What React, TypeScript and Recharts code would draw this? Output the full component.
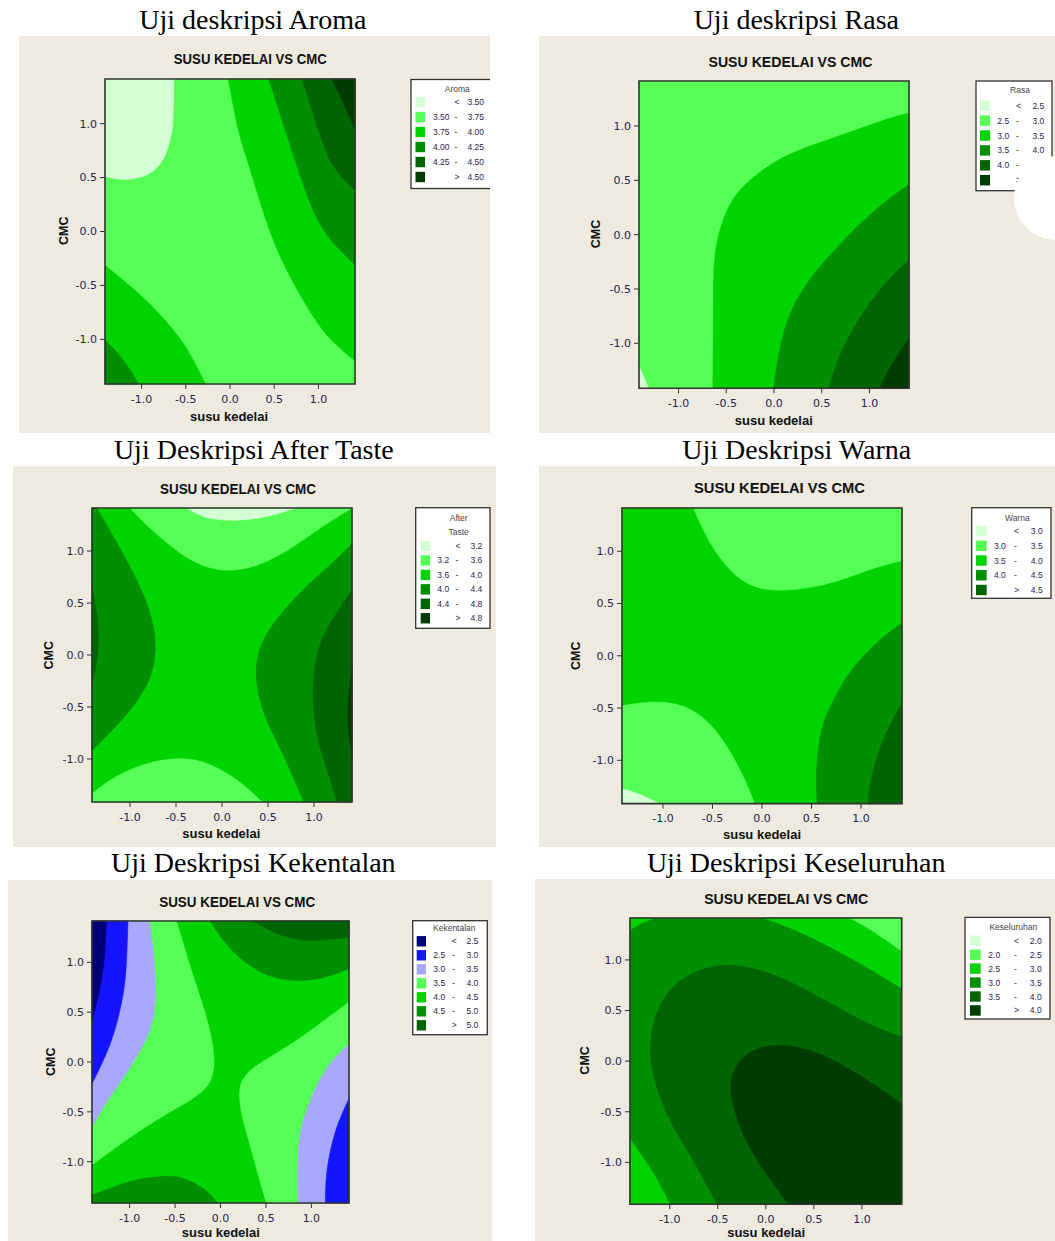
import React from 'react';
import { ScatterChart, Scatter, XAxis, YAxis } from 'recharts';

type P = { x: number; y: number };

const E = 1.414;
const pts = (a: number[][]): P[] => a.map(([x, y]) => ({ x, y }));

const BEIGE = '#eeeae0';
const LIGHT = '#d4ffd4';
const BRIGHT = '#55ff55';
const GREEN = '#00d400';
const MID = '#008f00';
const DARK = '#006400';
const DEEP = '#003c00';
const NAVY = '#000078';
const BLUE = '#1414ff';
const LAV = '#a8a8ff';

const ticks = [-1, -0.5, 0, 0.5, 1];
const full = pts([[-E, -E], [E, -E], [E, E], [-E, E]]);

// Aroma
const aromaLevels = ['3.50', '3.75', '4.00', '4.25', '4.50'];
const aromaLow = pts([[-0.636, E], [-0.64, 1.1], [-0.655, 0.9], [-0.749, 0.655], [-0.9, 0.53], [-1.107, 0.48], [-1.313, 0.486], [-E, 0.51], [-E, E]]);
const aromaGreenBL = pts([[-E, -0.314], [-1.163, -0.483], [-0.904, -0.668], [-0.636, -0.914], [-0.447, -1.131], [-0.278, -E], [-E, -E]]);
const aromaMidBL = pts([[-E, -1.006], [-1.22, -1.145], [-1.031, -E], [-E, -E]]);
const aromaGreenR = pts([[-0.02, E], [0.05, 1.1], [0.12, 0.85], [0.22, 0.6], [0.33, 0.3], [0.45, 0.0], [0.6, -0.3], [0.8, -0.6], [1.0, -0.87], [1.2, -1.06], [E, -1.2], [E, E]]);
const aromaMidR = pts([[0.437, E], [0.55, 1.13], [0.66, 0.85], [0.78, 0.55], [0.93, 0.2], [1.1, -0.05], [1.28, -0.2], [E, -0.314], [E, E]]);
const aromaDarkR = pts([[0.815, E], [0.928, 1.133], [1.041, 0.825], [1.2, 0.54], [E, 0.38], [E, E]]);
const aromaDeepR = pts([[1.154, E], [1.285, 1.194], [E, 0.948], [E, E]]);

// Rasa
const rasaLevels = ['2.5', '3.0', '3.5', '4.0', '4.5'];
const rasaLow = pts([[-E, -1.205], [-1.314, -E], [-E, -E]]);
const rasaGreen = pts([[-0.64, -E], [-0.633, -0.6], [-0.633, -0.3], [-0.598, -0.055], [-0.528, 0.16], [-0.424, 0.344], [-0.284, 0.48], [-0.04, 0.65], [0.239, 0.773], [0.588, 0.88], [0.937, 0.988], [1.286, 1.095], [E, 1.117], [E, -E]]);
const rasaMid = pts([[-0.005, -E], [0.047, -1.067], [0.169, -0.7], [0.379, -0.393], [0.658, -0.117], [0.972, 0.16], [1.217, 0.344], [E, 0.46], [E, -E]]);
const rasaDark = pts([[0.571, -E], [0.658, -1.16], [0.832, -0.853], [1.042, -0.577], [1.251, -0.362], [E, -0.233], [E, -E]]);
const rasaDeep = pts([[1.105, -E], [1.217, -1.19], [E, -0.96], [E, -E]]);

// After Taste
const tasteLevels = ['3.2', '3.6', '4.0', '4.4', '4.8'];
const tasteTop = pts([[-1.0, E], [-0.855, 1.277], [-0.673, 1.134], [-0.455, 0.975], [-0.236, 0.863], [0, 0.809], [0.236, 0.822], [0.491, 0.895], [0.745, 1.022], [1.0, 1.18], [1.218, 1.309], [E, E]]);
const tasteTopLight = pts([[-0.382, E], [-0.236, 1.331], [0, 1.293], [0.273, 1.299], [0.564, 1.341], [0.8, E]]);
const tasteBottom = pts([[-E, -1.334], [-1.255, -1.223], [-1.036, -1.111], [-0.782, -1.032], [-0.527, -0.994], [-0.309, -1.0], [-0.091, -1.064], [0.127, -1.175], [0.309, -1.303], [0.436, -E], [-E, -E]]);
const tasteLeft = pts([[-1.364, E], [-1.218, 1.197], [-1.036, 0.911], [-0.855, 0.592], [-0.745, 0.306], [-0.716, 0.051], [-0.764, -0.204], [-0.927, -0.459], [-1.145, -0.682], [-E, -0.92], [-E, E]]);
const tasteLeftDark = pts([[-E, 0.656], [-1.364, 0.433], [-1.342, 0.21], [-1.353, -0.013], [-1.389, -0.204], [-E, -0.27]]);
const tasteRight = pts([[E, 1.07], [1.218, 0.895], [0.927, 0.672], [0.673, 0.433], [0.455, 0.178], [0.364, -0.076], [0.382, -0.363], [0.491, -0.65], [0.655, -0.936], [0.782, -1.191], [0.891, -E], [E, -E]]);
const tasteRightDark = pts([[E, 0.624], [1.218, 0.369], [1.073, 0.146], [1.0, -0.14], [0.982, -0.49], [1.055, -0.873], [1.164, -1.159], [1.255, -E], [E, -E]]);
const tasteRightDeep = pts([[E, -0.14], [1.385, -0.331], [1.364, -0.554], [1.382, -0.777], [E, -0.968]]);

// Warna
const warnaLevels = ['3.0', '3.5', '4.0', '4.5'];
const warnaTop = pts([[-0.693, E], [-0.593, 1.197], [-0.459, 0.975], [-0.291, 0.784], [-0.124, 0.673], [0.077, 0.625], [0.345, 0.632], [0.613, 0.673], [0.881, 0.752], [1.149, 0.848], [E, 0.911], [E, E]]);
const warnaBottom = pts([[-E, -0.479], [-1.229, -0.448], [-0.995, -0.438], [-0.76, -0.486], [-0.559, -0.613], [-0.392, -0.803], [-0.258, -1.025], [-0.157, -1.216], [-0.074, -E], [-E, -E]]);
const warnaLow = pts([[-E, -1.273], [-1.229, -1.311], [-1.045, -E], [-E, -E]]);
const warnaMid = pts([[E, 0.314], [1.216, 0.181], [1.015, -0.01], [0.848, -0.2], [0.714, -0.438], [0.613, -0.644], [0.563, -0.898], [0.546, -1.184], [0.556, -E], [E, -E]]);
const warnaDark = pts([[E, -0.448], [1.283, -0.676], [1.183, -0.898], [1.116, -1.121], [1.082, -1.279], [1.072, -E], [E, -E]]);

// Kekentalan
const kentalLevels = ['2.5', '3.0', '3.5', '4.0', '4.5', '5.0'];
const kentalLeftBright = pts([[-0.486, E], [-0.413, 1.2], [-0.339, 0.967], [-0.229, 0.667], [-0.138, 0.4], [-0.083, 0.167], [-0.064, -0.033], [-0.112, -0.217], [-0.266, -0.35], [-0.56, -0.5], [-0.853, -0.667], [-1.147, -0.85], [-E, -1.033], [-E, E]]);
const kentalLeftLav = pts([[-0.78, E], [-0.743, 1.167], [-0.714, 0.833], [-0.714, 0.567], [-0.761, 0.333], [-0.89, 0.1], [-1.073, -0.167], [-1.257, -0.4], [-E, -0.65], [-E, E]]);
const kentalLeftBlue = pts([[-1.018, E], [-1.026, 1.167], [-1.044, 0.833], [-1.092, 0.567], [-1.165, 0.3], [-1.275, 0.033], [-E, -0.217], [-E, E]]);
const kentalLeftNavy = pts([[-1.257, E], [-1.264, 1.167], [-1.294, 0.9], [-1.349, 0.633], [-E, 0.417], [-E, E]]);
const kentalRightBright = pts([[E, 0.6], [1.165, 0.433], [0.872, 0.233], [0.578, 0.067], [0.339, -0.067], [0.218, -0.2], [0.204, -0.367], [0.248, -0.6], [0.339, -0.867], [0.413, -1.133], [0.505, -E], [E, -E]]);
const kentalRightLav = pts([[E, 0.183], [1.239, 0.033], [1.092, -0.167], [0.963, -0.433], [0.872, -0.7], [0.846, -1.0], [0.853, -E], [E, -E]]);
const kentalRightBlue = pts([[E, -0.367], [1.312, -0.567], [1.239, -0.767], [1.183, -1.0], [1.154, -1.233], [1.154, -E], [E, -E]]);
const kentalTopMid = pts([[-0.119, E], [-0.009, 1.267], [0.138, 1.1], [0.321, 0.967], [0.505, 0.867], [0.725, 0.817], [0.982, 0.817], [1.202, 0.86], [E, 0.933], [E, E]]);
const kentalTopDark = pts([[0.358, E], [0.505, 1.333], [0.725, 1.25], [0.945, 1.217], [1.165, 1.223], [E, 1.25], [E, E]]);
const kentalBottomMid = pts([[-E, -1.333], [-1.22, -1.267], [-0.963, -1.183], [-0.67, -1.143], [-0.45, -1.15], [-0.266, -1.217], [-0.119, -1.317], [-0.028, -E], [-E, -E]]);

// Keseluruhan
const allLevels = ['2.0', '2.5', '3.0', '3.5', '4.0'];
const allTopLeft = pts([[-E, 1.298], [-1.304, 1.364], [-1.166, E], [-E, E]]);
const allTopRight = pts([[-0.026, E], [0.181, 1.347], [0.458, 1.231], [0.734, 1.099], [1.01, 0.95], [1.218, 0.835], [E, 0.719], [E, E]]);
const allTopRightBright = pts([[0.872, E], [1.045, 1.33], [1.218, 1.215], [E, 1.089], [E, E]]);
const allBottomLeft = pts([[-E, -0.769], [-1.269, -0.967], [-1.131, -1.165], [-1.0, -E], [-E, -E]]);
const allDark = pts([[-0.509, -E], [-0.717, -1.033], [-0.959, -0.669], [-1.131, -0.306], [-1.207, 0.025], [-1.193, 0.289], [-1.124, 0.521], [-0.993, 0.719], [-0.786, 0.868], [-0.579, 0.934], [-0.371, 0.957], [-0.095, 0.911], [0.181, 0.818], [0.458, 0.686], [0.734, 0.537], [1.01, 0.395], [1.218, 0.306], [E, 0.24], [E, -E]]);
const allDeep = pts([[0.233, -E], [0.043, -1.165], [-0.147, -0.901], [-0.295, -0.603], [-0.371, -0.306], [-0.354, -0.124], [-0.233, 0.058], [-0.026, 0.147], [0.181, 0.164], [0.458, 0.114], [0.734, -0.002], [1.01, -0.157], [1.218, -0.289], [E, -0.421], [E, -E]]);

type Region = { color: string; data: P[] };
type Legend = {
  box: number[];
  title: string[];
  titleX: number;
  titleY: number;
  r0: number;
  step: number;
  sx: number;
  sw: number;
  loX: number;
  dashX: number;
  hiX: number;
  levels: string[];
  colors: string[];
};
type PanelCfg = {
  box: number[];
  plot: number[];
  title: string;
  titlePos: number[];
  sub: number[];
  xlab: number[];
  ylab: number[];
  legend: Legend;
  regions: Region[];
  circle?: number[];
};

const panels: PanelCfg[] = [
  {
    box: [19, 36, 471, 397],
    plot: [105, 79, 250, 305],
    title: 'Uji deskripsi Aroma',
    titlePos: [252.8, 29.3],
    sub: [250.3, 64, 153],
    xlab: [229, 420.5],
    ylab: [68.3, 230.7],
    legend: { box: [411, 79.5, 95, 109], title: ['Aroma'], titleX: 457.3, titleY: 92, r0: 102, step: 15, sx: 415.5, sw: 9.5, loX: 433, dashX: 456, hiX: 484, levels: aromaLevels, colors: [LIGHT, BRIGHT, GREEN, MID, DARK, DEEP] },
    regions: [
      { color: BRIGHT, data: full },
      { color: LIGHT, data: aromaLow },
      { color: GREEN, data: aromaGreenBL },
      { color: MID, data: aromaMidBL },
      { color: GREEN, data: aromaGreenR },
      { color: MID, data: aromaMidR },
      { color: DARK, data: aromaDarkR },
      { color: DEEP, data: aromaDeepR },
    ],
  },
  {
    box: [539, 36, 516, 397],
    plot: [639.3, 81, 270, 307.3],
    title: 'Uji deskripsi Rasa',
    titlePos: [796.3, 29.3],
    sub: [790.5, 66.7, 164],
    xlab: [773.8, 425],
    ylab: [599.7, 234],
    legend: { box: [976, 81, 76, 109.7], title: ['Rasa'], titleX: 1020, titleY: 93.3, r0: 105.7, step: 14.9, sx: 980, sw: 10, loX: 997.3, dashX: 1017.5, hiX: 1044.3, levels: rasaLevels, colors: [LIGHT, BRIGHT, GREEN, MID, DARK, DEEP] },
    regions: [
      { color: BRIGHT, data: full },
      { color: LIGHT, data: rasaLow },
      { color: GREEN, data: rasaGreen },
      { color: MID, data: rasaMid },
      { color: DARK, data: rasaDark },
      { color: DEEP, data: rasaDeep },
    ],
    circle: [1056, 198, 42],
  },
  {
    box: [13, 466, 483, 380.7],
    plot: [92.3, 508.3, 260, 294],
    title: 'Uji Deskripsi After Taste',
    titlePos: [253.8, 459.3],
    sub: [238, 494, 156],
    xlab: [221.3, 838.3],
    ylab: [53.3, 655.3],
    legend: { box: [415.7, 507.7, 74.3, 120.6], title: ['After', 'Taste'], titleX: 458.7, titleY: 520.7, r0: 546, step: 14.45, sx: 420.7, sw: 9.3, loX: 437.3, dashX: 457, hiX: 482.3, levels: tasteLevels, colors: [LIGHT, BRIGHT, GREEN, MID, DARK, DEEP] },
    regions: [
      { color: GREEN, data: full },
      { color: BRIGHT, data: tasteTop },
      { color: LIGHT, data: tasteTopLight },
      { color: BRIGHT, data: tasteBottom },
      { color: MID, data: tasteLeft },
      { color: DARK, data: tasteLeftDark },
      { color: MID, data: tasteRight },
      { color: DARK, data: tasteRightDark },
      { color: DEEP, data: tasteRightDeep },
    ],
  },
  {
    box: [539, 466, 516, 380.7],
    plot: [622.3, 507.7, 280, 295.6],
    title: 'Uji Deskripsi Warna',
    titlePos: [796.7, 459.3],
    sub: [779.5, 493.3, 171],
    xlab: [762, 839],
    ylab: [580, 655.7],
    legend: { box: [971.7, 507.7, 79.3, 90.6], title: ['Warna'], titleX: 1017.3, titleY: 520.7, r0: 531, step: 14.75, sx: 976, sw: 10.7, loX: 994, dashX: 1015.5, hiX: 1042.7, levels: warnaLevels, colors: [LIGHT, BRIGHT, GREEN, MID, DARK] },
    regions: [
      { color: GREEN, data: full },
      { color: BRIGHT, data: warnaTop },
      { color: BRIGHT, data: warnaBottom },
      { color: LIGHT, data: warnaLow },
      { color: MID, data: warnaMid },
      { color: DARK, data: warnaDark },
    ],
  },
  {
    box: [8, 880, 483.7, 361],
    plot: [92.3, 920.7, 257, 282],
    title: 'Uji Deskripsi Kekentalan',
    titlePos: [253.3, 872.3],
    sub: [237.2, 907, 156],
    xlab: [220.8, 1236.7],
    ylab: [55, 1061.7],
    legend: { box: [412.7, 920.7, 74.6, 114], title: ['Kekentalan'], titleX: 454.3, titleY: 931.3, r0: 941.3, step: 14, sx: 416.7, sw: 9.3, loX: 433.3, dashX: 453.3, hiX: 478.3, levels: kentalLevels, colors: [NAVY, BLUE, LAV, BRIGHT, GREEN, MID, DARK] },
    regions: [
      { color: GREEN, data: full },
      { color: BRIGHT, data: kentalLeftBright },
      { color: LAV, data: kentalLeftLav },
      { color: BLUE, data: kentalLeftBlue },
      { color: NAVY, data: kentalLeftNavy },
      { color: BRIGHT, data: kentalRightBright },
      { color: LAV, data: kentalRightLav },
      { color: BLUE, data: kentalRightBlue },
      { color: MID, data: kentalTopMid },
      { color: DARK, data: kentalTopDark },
      { color: MID, data: kentalBottomMid },
    ],
  },
  {
    box: [535, 879.3, 520, 361.7],
    plot: [630, 917.7, 271.7, 286.3],
    title: 'Uji Deskripsi Keseluruhan',
    titlePos: [796.2, 872.3],
    sub: [786.2, 904.3, 164],
    xlab: [766.2, 1237.7],
    ylab: [589.3, 1060.7],
    legend: { box: [965, 917.7, 85, 101.6], title: ['Keseluruhan'], titleX: 1013.3, titleY: 930, r0: 941, step: 13.95, sx: 970, sw: 10.7, loX: 988.3, dashX: 1015.5, hiX: 1041.7, levels: allLevels, colors: [LIGHT, BRIGHT, GREEN, MID, DARK, DEEP] },
    regions: [
      { color: MID, data: full },
      { color: GREEN, data: allTopLeft },
      { color: GREEN, data: allTopRight },
      { color: BRIGHT, data: allTopRightBright },
      { color: GREEN, data: allBottomLeft },
      { color: DARK, data: allDark },
      { color: DEEP, data: allDeep },
    ],
  },
];

const onEdge = (p: P) => Math.abs(Math.abs(p.x) - E) < 1e-6 || Math.abs(Math.abs(p.y) - E) < 1e-6;

// points on the plot border stay sharp, inner points get a quadratic smoothing
function regionPath(points: { x: number; y: number }[], src: P[]) {
  const n = points.length;
  if (!n) return '';
  const hard = src.map(onEdge);
  let d = `M${points[0].x},${points[0].y}`;
  for (let i = 1; i <= n; i++) {
    const k = i % n;
    const p = points[k];
    if (hard[k]) {
      d += `L${p.x},${p.y}`;
      continue;
    }
    const k2 = (i + 1) % n;
    const q = points[k2];
    const end = hard[k2] ? q : { x: (p.x + q.x) / 2, y: (p.y + q.y) / 2 };
    d += `Q${p.x},${p.y} ${end.x},${end.y}`;
  }
  return d + 'Z';
}

const noDot = () => <g />;
const tickStyle = { fontSize: 11, fill: '#2a2450', fontFamily: 'DejaVu Sans, Verdana, sans-serif' };
const fmt = (v: number) => v.toFixed(1);

function LegendBox({ lg, ox, oy }: { lg: Legend; ox: number; oy: number }) {
  const [bx, by, bw, bh] = lg.box;
  const rows = lg.colors.length;
  const txt = { fontSize: 8.5, fontFamily: 'Liberation Sans, Arial, sans-serif', fill: '#2b2550' };
  return (
    <g>
      <rect x={bx - ox} y={by - oy} width={bw} height={bh} fill="#fff" stroke="#333" strokeWidth={1.3} />
      {lg.title.map((t, i) => (
        <text key={t} x={lg.titleX - ox} y={lg.titleY - oy + i * 14.3} textAnchor="middle" {...txt} fill="#444">
          {t}
        </text>
      ))}
      {lg.colors.map((c, i) => {
        const cy = lg.r0 - oy + i * lg.step;
        const first = i === 0;
        const last = i === rows - 1;
        return (
          <g key={i}>
            <rect x={lg.sx - ox} y={cy - 5.2} width={lg.sw} height={10.4} fill={c} />
            {first || last ? (
              <>
                <text x={lg.dashX - ox + 1} y={cy + 3} textAnchor="middle" {...txt}>{first ? '<' : '>'}</text>
                <text x={lg.hiX - ox} y={cy + 3} textAnchor="end" {...txt}>{lg.levels[first ? 0 : lg.levels.length - 1]}</text>
              </>
            ) : (
              <>
                <text x={lg.loX - ox} y={cy + 3} {...txt}>{lg.levels[i - 1]}</text>
                <text x={lg.dashX - ox} y={cy + 3} textAnchor="middle" {...txt}>-</text>
                <text x={lg.hiX - ox} y={cy + 3} textAnchor="end" {...txt}>{lg.levels[i]}</text>
              </>
            )}
          </g>
        );
      })}
    </g>
  );
}

function Panel({ cfg }: { cfg: PanelCfg }) {
  const [left, top, width, height] = cfg.box;
  const [px, py, pw, ph] = cfg.plot;
  return (
    <div style={{ position: 'absolute', left, top, width, height, background: BEIGE, overflow: 'hidden' }}>
      <div style={{ position: 'absolute', left: px - left - 60, top: py - top - 10 }}>
        <ScatterChart width={pw + 70} height={ph + 60} margin={{ top: 10, right: 10, bottom: 0, left: 0 }}>
          <XAxis
            type="number"
            dataKey="x"
            domain={[-E, E]}
            ticks={ticks}
            tickFormatter={fmt}
            height={50}
            tickSize={5}
            tickMargin={6}
            axisLine={false}
            tickLine={{ stroke: '#333' }}
            tick={tickStyle}
          />
          <YAxis
            type="number"
            dataKey="y"
            domain={[-E, E]}
            ticks={ticks}
            tickFormatter={fmt}
            width={60}
            tickSize={5}
            tickMargin={3}
            axisLine={false}
            tickLine={{ stroke: '#333' }}
            tick={tickStyle}
          />
          {cfg.regions.map((r, i) => (
            <Scatter
              key={i}
              data={r.data}
              fill={r.color}
              shape={noDot}
              legendType="none"
              isAnimationActive={false}
              line={(lp: any) => <path d={regionPath(lp.points || [], r.data)} fill={r.color} stroke={r.color} strokeWidth={0.6} />}
            />
          ))}
          <Scatter
            data={full}
            fill="#3a3a3a"
            shape={noDot}
            legendType="none"
            isAnimationActive={false}
            line={(lp: any) => <path d={regionPath(lp.points || [], full)} fill="none" stroke="#333" strokeWidth={1.6} />}
          />
        </ScatterChart>
      </div>
      <svg width={width} height={height} style={{ position: 'absolute', left: 0, top: 0 }}>
        <text
          x={cfg.sub[0] - left}
          y={cfg.sub[1] - top}
          textAnchor="middle"
          textLength={cfg.sub[2]}
          lengthAdjust="spacingAndGlyphs"
          fontFamily="Liberation Sans, Arial, sans-serif"
          fontWeight="bold"
          fontSize={15.5}
          fill="#111"
        >
          SUSU KEDELAI VS CMC
        </text>
        <text x={cfg.xlab[0] - left} y={cfg.xlab[1] - top} textAnchor="middle" fontFamily="Liberation Sans, Arial, sans-serif" fontWeight="bold" fontSize={13} fill="#111">
          susu kedelai
        </text>
        <text
          x={cfg.ylab[0] - left}
          y={cfg.ylab[1] - top}
          transform={`rotate(-90 ${cfg.ylab[0] - left} ${cfg.ylab[1] - top})`}
          textAnchor="middle"
          fontFamily="Liberation Sans, Arial, sans-serif"
          fontWeight="bold"
          fontSize={12.5}
          fill="#111"
        >
          CMC
        </text>
        <LegendBox lg={cfg.legend} ox={left} oy={top} />
        {cfg.circle && <circle cx={cfg.circle[0] - left} cy={cfg.circle[1] - top} r={cfg.circle[2]} fill="#fff" />}
      </svg>
    </div>
  );
}

export default function App() {
  return (
    <div style={{ position: 'absolute', left: 0, top: 0, width: 1055, height: 1241, background: '#fff', overflow: 'hidden' }}>
      <svg width={1055} height={1241} style={{ position: 'absolute', left: 0, top: 0 }}>
        {panels.map((p) => (
          <text key={p.title} x={p.titlePos[0]} y={p.titlePos[1]} textAnchor="middle" fontFamily="Liberation Serif, Times New Roman, serif" fontSize={28} fill="#000">
            {p.title}
          </text>
        ))}
      </svg>
      {panels.map((p) => (
        <Panel key={p.title} cfg={p} />
      ))}
    </div>
  );
}
